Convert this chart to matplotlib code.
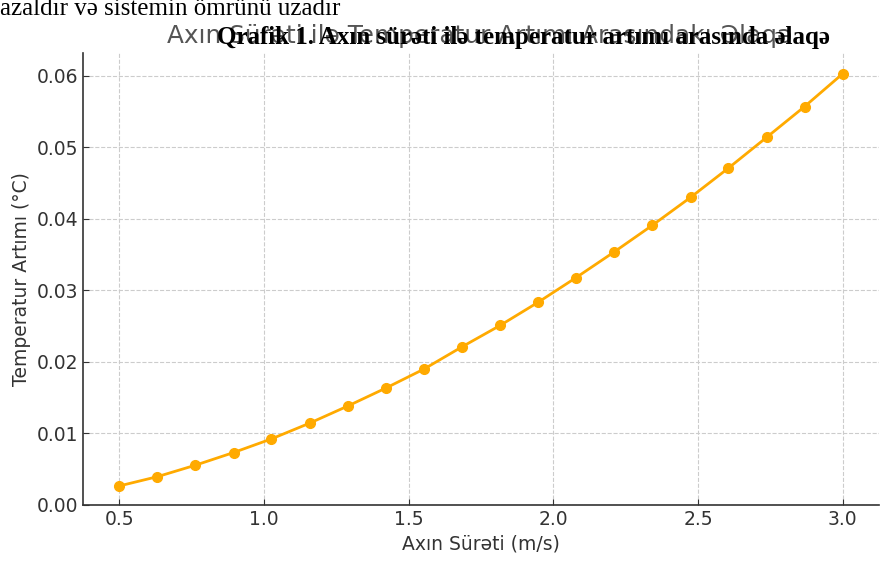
import numpy as np
import matplotlib.pyplot as plt

# flow speed (m/s) and temperature rise (°C)
speed = [0.5, 0.632, 0.763, 0.895, 1.026, 1.158, 1.289, 1.421, 1.553, 1.684,
         1.816, 1.947, 2.079, 2.211, 2.342, 2.474, 2.605, 2.737, 2.868, 3.0]
temp_rise = [0.00266, 0.00396, 0.00556, 0.00733, 0.00924, 0.01144, 0.01382, 0.01634,
             0.0190, 0.0221, 0.0251, 0.02833, 0.0318, 0.0354, 0.0391, 0.0430,
             0.0471, 0.0514, 0.0557, 0.0603]

title = "Axın Sürəti ilə Temperatur Artımı Arasındakı Əlaqə"
caption = "Qrafik 1. Axın sürəti ilə temperatur artımı arasında əlaqə"
top_line = "azaldır və sistemin ömrünü uzadır"

W, H = 889, 566
fig = plt.figure(figsize=(W/100, H/100), dpi=100)
ax = fig.add_axes([83/W, 1-505/H, (879-83)/W, (505-53)/H])

ax.plot(speed, temp_rise, color='#FFAA00', lw=2, marker='o', ms=7)
ax.set_ylim(bottom=0)
ax.grid(True, ls='--', color='#cccccc', lw=0.8)
ax.spines['top'].set_visible(False)
ax.spines['right'].set_visible(False)
for s in ('left', 'bottom'):
    ax.spines[s].set_color('#333333')
    ax.spines[s].set_linewidth(1.2)
ax.tick_params(direction='in', labelsize=13.5, colors='#333333', length=4)
ax.set_xlabel("Axın Sürəti (m/s)", fontsize=13.5, color='#333333')
ax.set_ylabel("Temperatur Artımı (°C)", fontsize=13.5, color='#333333')

fig.text(480/W, 1-43/H, title, ha='center', va='baseline', fontsize=17.8, color='#555555')
fig.text(217/W, 1-44/H, caption, ha='left', va='baseline', fontsize=18,
         family='Liberation Serif', weight='bold', color='black')
fig.text(0, 1-15/H, top_line, ha='left', va='baseline', fontsize=18,
         family='Liberation Serif', color='black')

fig.savefig('out.png', dpi=100)
